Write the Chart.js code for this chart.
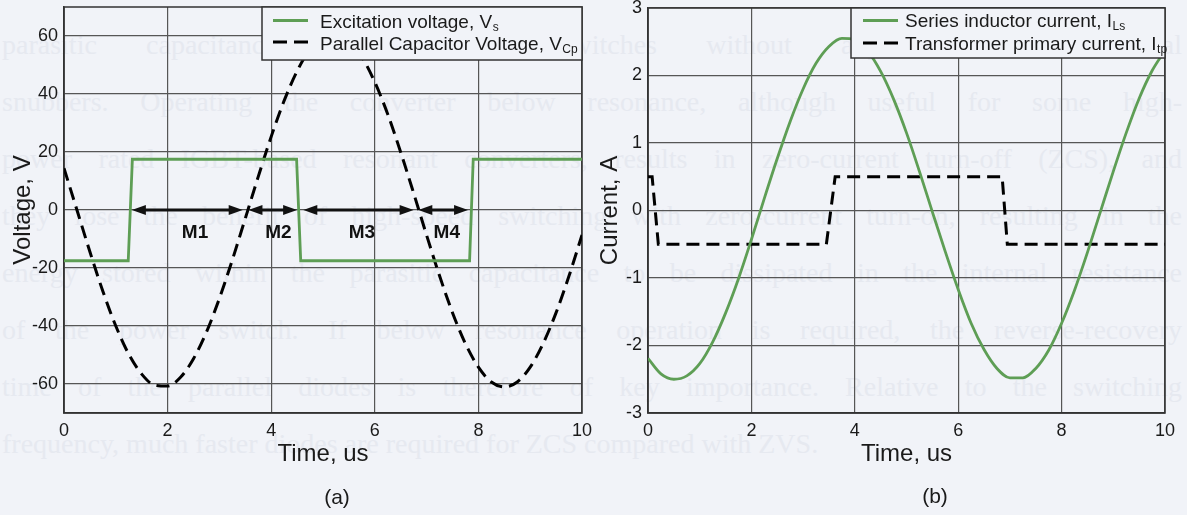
<!DOCTYPE html>
<html>
<head>
<meta charset="utf-8">
<script src="https://cdn.jsdelivr.net/npm/chart.js@4.4.1/dist/chart.umd.min.js"></script>
<style>
html,body{margin:0;padding:0;background:#f1f3f8;width:1187px;height:515px;overflow:hidden;}
#bg{position:absolute;left:0;top:0;width:1187px;height:515px;overflow:hidden;font-family:"Liberation Serif",serif;font-size:28px;line-height:28px;color:#e6e9f0;}
#bg div{position:absolute;left:2px;width:1180px;white-space:nowrap;text-align:justify;text-align-last:justify;}
#bg div.last{text-align-last:left;}
canvas{position:absolute;top:0;}
#ca{left:0;}
#cb{left:590px;}
.cap{position:absolute;font-family:"Liberation Sans",Arial,sans-serif;font-size:21px;color:#1a1a1a;transform:translate(-50%,-50%);white-space:nowrap;}
</style>
</head>
<body>
<div id="bg">
<div style="top:31px">parasitic capacitance of the power-switches without any additional external</div>
<div style="top:88px">snubbers. Operating the converter below resonance, although useful for some high-</div>
<div style="top:145px">power rated IGBT-based resonant converters, results in zero-current turn-off (ZCS), and</div>
<div style="top:202px">they lose the benefit of high-speed switching with zero-current turn-on, resulting in the</div>
<div style="top:259px">energy stored within the parasitic capacitance to be dissipated in the internal resistance</div>
<div style="top:316px">of the power switch. If below resonance operation is required, the reverse-recovery</div>
<div style="top:373px">time of the parallel diodes is therefore of key importance. Relative to the switching</div>
<div class="last" style="top:430px">frequency, much faster diodes are required for ZCS compared with ZVS.</div>
</div>
<canvas id="ca" width="600" height="515"></canvas>
<canvas id="cb" width="597" height="515"></canvas>
<div class="cap" style="left:337px;top:497px">(a)</div>
<div class="cap" style="left:935px;top:496px">(b)</div>
<script>
// ---------- data ----------
const timeTicks = [0, 2, 4, 6, 8, 10];
const voltTicks = [-60, -40, -20, 0, 20, 40, 60];
const currTicks = [-3, -2, -1, 0, 1, 2, 3];

// (a) excitation voltage Vs (square wave)
const vsTime = [0, 1.24, 1.32, 4.49, 4.57, 7.83, 7.90, 10];
const vsVolt = [-17.5, -17.5, 17.5, 17.5, -17.5, -17.5, 17.5, 17.5];

// (a) parallel capacitor voltage Vcp
const vcpTime = [0, 0.25, 0.5, 0.75, 1, 1.25, 1.5, 1.75, 2, 2.25, 2.5, 2.75, 3, 3.25, 3.5, 3.75, 4, 4.25, 4.5, 4.75, 5,
                 5.25, 5.5, 5.75, 6, 6.25, 6.5, 6.75, 7, 7.25, 7.5, 7.75, 8, 8.25, 8.5, 8.75, 9, 9.25, 9.5, 9.75, 10];
const vcpVolt = [14.4, 0, -14.4, -28.0, -40.0, -49.7, -56.6, -60.4, -60.7, -57.7, -51.3, -42.1, -30.5, -17.2, -2.9, 11.5, 25.3,
                 37.7, 47.9, 55.5, 59.9, 60.9, 58.5, 52.8, 44.1, 33.0, 19.9, 5.8, -8.7, -22.7, -35.4, -46.1, -54.2, -59.3,
                 -61.0, -59.3, -54.2, -46.0, -35.4, -22.7, -8.6];

// (a) operating-mode intervals on the 0 V line
const modeNames = ['M1', 'M2', 'M3', 'M4'];
const modeStart = [1.31, 3.56, 4.62, 6.84];
const modeEnd = [3.45, 4.50, 6.75, 7.80];
const modeLabelX = [2.53, 4.14, 5.75, 7.39];
const modeLabelY = -8;

// (b) series inductor current ILs
const ilsTime = vcpTime.slice();
const ilsAmp = [-2.19, -2.42, -2.50, -2.45, -2.27, -1.95, -1.52, -1.01, -0.43, 0.18, 0.77, 1.32, 1.80, 2.18, 2.43, 2.55, 2.53,
                2.36, 2.06, 1.65, 1.15, 0.58, -0.02, -0.61, -1.17, -1.67, -2.06, -2.34, -2.48, -2.48, -2.34, -2.07, -1.67,
                -1.18, -0.62, -0.02, 0.58, 1.15, 1.66, 2.07, 2.37];

// (b) transformer primary current Itp
const itpTime = [0, 0.08, 0.20, 3.45, 3.62, 6.85, 6.95, 10];
const itpAmp = [0.5, 0.5, -0.5, -0.5, 0.5, 0.5, -0.5, -0.5];

// ---------- styling ----------
const FONT = '"Liberation Sans", Arial, sans-serif';
const GREEN = '#5e9e55';
const INK = '#1a1a1a';
const BG = '#f1f3f8';
const GRID = '#565656';
Chart.defaults.font.family = FONT;
Chart.defaults.color = INK;

const zip = (xs, ys) => xs.map((x, i) => ({x: x, y: ys[i]}));

function frame(id) {
  return {
    id: id,
    beforeDatasetsDraw(chart) {
      const a = chart.chartArea, c = chart.ctx;
      c.save();
      c.strokeStyle = '#333';
      c.lineWidth = 1.5;
      c.strokeRect(a.left, a.top, a.right - a.left, a.bottom - a.top);
      c.restore();
    }
  };
}

function legendBox(id, w, h, rows) {
  return {
    id: id,
    afterDatasetsDraw(chart) {
      const a = chart.chartArea, c = chart.ctx;
      const x0 = a.right - w, y0 = a.top;
      c.save();
      c.fillStyle = BG;
      c.fillRect(x0, y0, w, h);
      c.strokeStyle = '#333';
      c.lineWidth = 1.5;
      c.strokeRect(x0, y0, w, h);
      rows.forEach(r => {
        c.beginPath();
        c.strokeStyle = r.color;
        c.lineWidth = r.width;
        c.setLineDash(r.dash);
        c.moveTo(x0 + r.sx0, y0 + r.sy);
        c.lineTo(x0 + r.sx1, y0 + r.sy);
        c.stroke();
        c.setLineDash([]);
        c.fillStyle = INK;
        c.textBaseline = 'middle';
        c.textAlign = 'left';
        c.font = '19px ' + FONT;
        c.fillText(r.text, x0 + r.tx, y0 + r.ty);
        const tw = c.measureText(r.text).width;
        c.font = '12px ' + FONT;
        c.fillText(r.sub, x0 + r.tx + tw + 0.5, y0 + r.ty + 5);
      });
      c.restore();
    }
  };
}

const modeArrows = {
  id: 'modeArrows',
  afterDatasetsDraw(chart) {
    const xs = chart.scales.x, ys = chart.scales.y, c = chart.ctx;
    const y = ys.getPixelForValue(0);
    c.save();
    c.strokeStyle = '#111';
    c.fillStyle = '#111';
    c.lineWidth = 3;
    const head = (xt, dir) => {
      c.beginPath();
      c.moveTo(xt, y);
      c.lineTo(xt - dir * 14, y - 5);
      c.lineTo(xt - dir * 14, y + 5);
      c.closePath();
      c.fill();
    };
    modeNames.forEach((name, i) => {
      const xa = xs.getPixelForValue(modeStart[i]);
      const xb = xs.getPixelForValue(modeEnd[i]);
      c.beginPath();
      c.moveTo(xa + 8, y);
      c.lineTo(xb - 8, y);
      c.stroke();
      head(xa, -1);
      head(xb, 1);
      c.font = 'bold 19px ' + FONT;
      c.textAlign = 'center';
      c.textBaseline = 'middle';
      c.fillText(name, xs.getPixelForValue(modeLabelX[i]), ys.getPixelForValue(modeLabelY));
    });
    c.restore();
  }
};

function xScale() {
  return {
    type: 'linear', min: 0, max: 10,
    afterBuildTicks: s => { s.ticks = timeTicks.map(v => ({value: v})); },
    afterFit: s => { s.height = 102; },
    grid: {color: GRID, lineWidth: 1.2, drawTicks: false},
    border: {color: '#333', width: 1.5},
    ticks: {padding: 7, color: INK, font: {size: 18}, maxRotation: 0, autoSkip: false},
    title: {display: true, text: 'Time, us', color: INK, font: {size: 24}, padding: {top: 0, bottom: 46}}
  };
}

function yScale(min, max, ticks, title, width, tpad) {
  return {
    type: 'linear', min: min, max: max,
    afterBuildTicks: s => { s.ticks = ticks.map(v => ({value: v})); },
    afterFit: s => { s.width = width; s.paddingTop = 0; s.paddingBottom = 0; },
    grid: {color: GRID, lineWidth: 1.2, drawTicks: false},
    border: {color: '#333', width: 1.5},
    ticks: {padding: 6, color: INK, font: {size: 18}, autoSkip: false},
    title: {display: true, text: title, color: INK, font: {size: 24}, padding: {top: tpad, bottom: 0}}
  };
}

const common = {
  responsive: false,
  animation: false,
  devicePixelRatio: 1,
  events: [],
  plugins: {legend: {display: false}, tooltip: {enabled: false}},
  elements: {point: {radius: 0}}
};

new Chart(document.getElementById('ca'), {
  type: 'line',
  data: {
    datasets: [
      {label: 'Excitation voltage, Vs', data: zip(vsTime, vsVolt), borderColor: GREEN, borderWidth: 2.8, tension: 0},
      {label: 'Parallel Capacitor Voltage, VCp', data: zip(vcpTime, vcpVolt), borderColor: '#000', borderWidth: 3,
       borderDash: [13, 7], cubicInterpolationMode: 'monotone'}
    ]
  },
  options: Object.assign({}, common, {
    layout: {padding: {top: 7, right: 18, left: 0, bottom: 0}},
    scales: {x: xScale(), y: yScale(-70, 70, voltTicks, 'Voltage, V', 64, 9)}
  }),
  plugins: [frame('frameA'), modeArrows, legendBox('legA', 320, 53, [
    {text: 'Excitation voltage, V', sub: 's', color: GREEN, width: 2.8, dash: [], sx0: 11, sx1: 46, sy: 13.5, tx: 58, ty: 15.5},
    {text: 'Parallel Capacitor Voltage, V', sub: 'Cp', color: '#000', width: 3, dash: [14, 7], sx0: 11, sx1: 46, sy: 35, tx: 58, ty: 37.5}
  ])]
});

new Chart(document.getElementById('cb'), {
  type: 'line',
  data: {
    datasets: [
      {label: 'Series inductor current, ILs', data: zip(ilsTime, ilsAmp), borderColor: GREEN, borderWidth: 2.8,
       cubicInterpolationMode: 'monotone'},
      {label: 'Transformer primary current, Itp', data: zip(itpTime, itpAmp), borderColor: '#000', borderWidth: 3,
       borderDash: [13, 7], tension: 0}
    ]
  },
  options: Object.assign({}, common, {
    layout: {padding: {top: 8, right: 22, left: 0, bottom: 0}},
    scales: {x: xScale(), y: yScale(-3, 3, currTicks, 'Current, A', 58, 6)}
  }),
  plugins: [frame('frameB'), legendBox('legB', 314, 50, [
    {text: 'Series inductor current, I', sub: 'Ls', color: GREEN, width: 2.8, dash: [], sx0: 12, sx1: 47, sy: 12.5, tx: 54, ty: 14},
    {text: 'Transformer primary current, I', sub: 'tp', color: '#000', width: 3, dash: [14, 7], sx0: 12, sx1: 47, sy: 35, tx: 54, ty: 37}
  ])]
});
</script>
</body>
</html>
